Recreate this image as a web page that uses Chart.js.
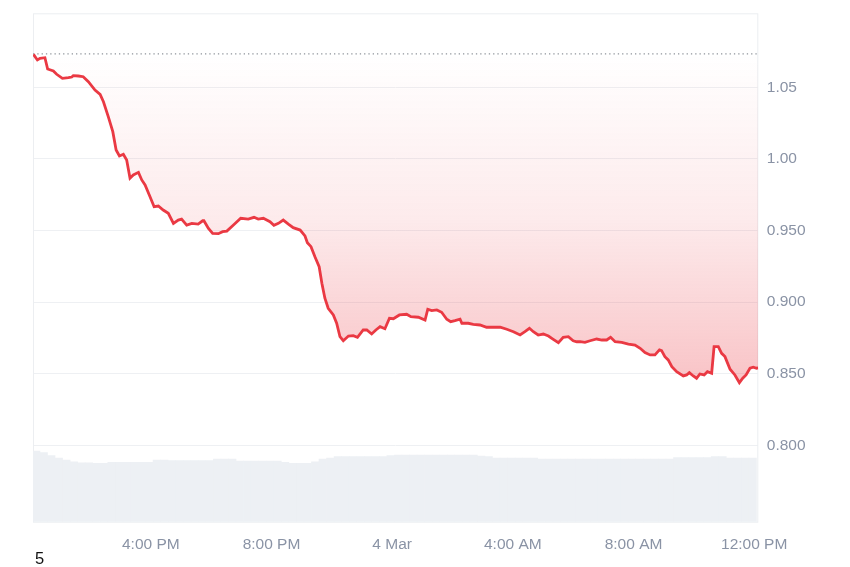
<!DOCTYPE html>
<html>
<head>
<meta charset="utf-8">
<script src="https://cdn.jsdelivr.net/npm/chart.js@4.4.1/dist/chart.umd.min.js"></script>
<style>
    html, body { margin: 0; padding: 0; background: #fff; }
    #wrap { position: relative; width: 850px; height: 567px; }
    #note {
        position: absolute; left: 35px; top: 549px;
        font: 16.5px "Liberation Sans", Arial, sans-serif; color: #111;
    }
</style>
</head>
<body>
<div id="wrap">
    <canvas id="priceChart"></canvas>
    <div id="note">5</div>
</div>
<script>
// время в часах от 00:00 3 марта
const priceTimes = [12.11, 12.24, 12.33, 12.49, 12.58, 12.77, 12.88, 13.07, 13.27, 13.38,
    13.43, 13.60, 13.76, 13.93, 14.15, 14.32, 14.43, 14.59, 14.74, 14.85,
    14.96, 15.09, 15.20, 15.31, 15.42, 15.59, 15.70, 15.81, 15.95, 16.11,
    16.25, 16.41, 16.58, 16.75, 16.91, 17.02, 17.19, 17.36, 17.57, 17.72,
    17.76, 17.91, 18.05, 18.24, 18.38, 18.52, 18.74, 18.98, 19.23, 19.42,
    19.56, 19.73, 19.95, 20.08, 20.23, 20.39, 20.56, 20.72, 20.95, 21.11,
    21.19, 21.31, 21.44, 21.58, 21.67, 21.77, 21.88, 22.05, 22.16, 22.27,
    22.38, 22.55, 22.71, 22.85, 23.04, 23.16, 23.32, 23.46, 23.60, 23.76,
    23.91, 24.04, 24.24, 24.48, 24.62, 24.87, 25.09, 25.18, 25.31, 25.48,
    25.64, 25.81, 25.94, 26.08, 26.25, 26.31, 26.52, 26.69, 26.91, 27.13,
    27.35, 27.58, 27.80, 28.02, 28.24, 28.40, 28.55, 28.68, 28.84, 29.01,
    29.18, 29.34, 29.51, 29.67, 29.84, 30.00, 30.12, 30.23, 30.39, 30.56,
    30.78, 30.95, 31.11, 31.24, 31.39, 31.61, 31.83, 32.05, 32.22, 32.38,
    32.55, 32.71, 32.86, 32.93, 33.04, 33.15, 33.27, 33.43, 33.65, 33.76,
    33.85, 33.98, 34.09, 34.20, 34.34, 34.45, 34.59, 34.67, 34.81, 34.92,
    35.03, 35.20, 35.36, 35.51, 35.62, 35.73, 35.86, 35.97, 36.08, 36.13];

const priceValues = [1.0730, 1.0691, 1.0703, 1.0707, 1.0628, 1.0614, 1.0591, 1.0563, 1.0567, 1.0572,
    1.0581, 1.0579, 1.0574, 1.0539, 1.0481, 1.0451, 1.0399, 1.0295, 1.0190, 1.0062,
    1.0020, 1.0032, 0.9992, 0.9865, 0.9888, 0.9906, 0.9853, 0.9818, 0.9748, 0.9666,
    0.9671, 0.9643, 0.9620, 0.9550, 0.9573, 0.9580, 0.9538, 0.9550, 0.9545, 0.9568,
    0.9568, 0.9515, 0.9480, 0.9478, 0.9492, 0.9496, 0.9538, 0.9585, 0.9580, 0.9592,
    0.9580, 0.9585, 0.9561, 0.9536, 0.9550, 0.9573, 0.9545, 0.9520, 0.9503, 0.9462,
    0.9415, 0.9387, 0.9317, 0.9247, 0.9131, 0.9027, 0.8957, 0.8910, 0.8852, 0.8758,
    0.8730, 0.8763, 0.8765, 0.8754, 0.8805, 0.8805, 0.8777, 0.8805, 0.8828, 0.8814,
    0.8887, 0.8884, 0.8910, 0.8915, 0.8898, 0.8894, 0.8875, 0.8950, 0.8940, 0.8945,
    0.8929, 0.8880, 0.8863, 0.8870, 0.8880, 0.8852, 0.8852, 0.8845, 0.8840, 0.8824,
    0.8824, 0.8824, 0.8810, 0.8793, 0.8770, 0.8793, 0.8817, 0.8793, 0.8770, 0.8777,
    0.8763, 0.8740, 0.8716, 0.8754, 0.8758, 0.8730, 0.8723, 0.8723, 0.8719, 0.8730,
    0.8742, 0.8735, 0.8735, 0.8754, 0.8723, 0.8719, 0.8707, 0.8700, 0.8677, 0.8647,
    0.8631, 0.8631, 0.8666, 0.8661, 0.8619, 0.8596, 0.8549, 0.8514, 0.8484, 0.8491,
    0.8507, 0.8484, 0.8468, 0.8498, 0.8491, 0.8514, 0.8503, 0.8689, 0.8689, 0.8642,
    0.8619, 0.8531, 0.8491, 0.8437, 0.8468, 0.8491, 0.8538, 0.8545, 0.8538, 0.8540];

// объём по 15-минутным интервалам, начиная с 12:12
const volumeStart = 12.2;
const volumeStep = 0.25;
const volumeValues = [13.9, 13.6, 13.0, 12.5, 12.1, 11.8, 11.6, 11.6, 11.5, 11.5,
    11.7, 11.7, 11.7, 11.7, 11.7, 11.7, 12.1, 12.1, 12.0, 12.0,
    12.0, 12.0, 12.0, 12.0, 12.3, 12.3, 12.3, 11.9, 11.9, 11.9,
    11.9, 11.9, 11.9, 11.7, 11.5, 11.5, 11.5, 11.8, 12.3, 12.5,
    12.8, 12.8, 12.8, 12.8, 12.8, 12.8, 12.8, 13.0, 13.1, 13.1,
    13.1, 13.1, 13.1, 13.1, 13.1, 13.1, 13.1, 13.1, 13.1, 12.9,
    12.8, 12.5, 12.5, 12.5, 12.5, 12.5, 12.5, 12.3, 12.3, 12.3,
    12.3, 12.3, 12.3, 12.3, 12.3, 12.3, 12.3, 12.3, 12.3, 12.3,
    12.3, 12.3, 12.3, 12.3, 12.3, 12.6, 12.6, 12.6, 12.6, 12.6,
    12.8, 12.8, 12.5, 12.5, 12.5, 12.5];

const openPrice = 1.0733;
const timeMin = 12.095;
const timeMax = 36.136;

const xTicks = [16, 20, 24, 28, 32, 36];
const xTickLabels = ['4:00 PM', '8:00 PM', '4 Mar', '4:00 AM', '8:00 AM', '12:00 PM'];
const yTicks = [0.80, 0.85, 0.90, 0.95, 1.00, 1.05];
const yTickLabels = ['0.800', '0.850', '0.900', '0.950', '1.00', '1.05'];

const labelFont = { family: '"Liberation Sans", Arial, sans-serif', size: 15.5 };
const labelColor = '#8a93a5';

// рамка вокруг области графика
const frame = {
    id: 'frame',
    beforeDatasetsDraw(chart) {
        const { ctx, chartArea: a } = chart;
        ctx.save();
        ctx.strokeStyle = '#eceef1';
        ctx.lineWidth = 1;
        ctx.strokeRect(a.left + 0.5, a.top + 0.5, a.right - a.left - 1, a.bottom - a.top);
        ctx.restore();
    }
};

const priceData = priceTimes.map((t, i) => ({ x: t, y: priceValues[i] }));
const volumeData = volumeValues.map((v, i) => ({ x: volumeStart + i * volumeStep, y: v }));

new Chart(document.getElementById('priceChart').getContext('2d'), {
    data: {
        datasets: [
            {
                type: 'line',
                data: priceData,
                borderColor: '#ea3943',
                borderWidth: 2.8,
                pointRadius: 0,
                tension: 0,
                order: 1,
                fill: { value: openPrice },
                backgroundColor: function (context) {
                    const chart = context.chart;
                    if (!chart.chartArea) return 'rgba(234,57,67,0.1)';
                    const y = chart.scales.y;
                    const top = y.getPixelForValue(openPrice);
                    const bottom = y.getPixelForValue(Math.min(...priceValues));
                    const g = chart.ctx.createLinearGradient(0, top, 0, bottom);
                    g.addColorStop(0, 'rgba(234,57,67,0.0)');
                    g.addColorStop(0.5, 'rgba(234,57,67,0.1)');
                    g.addColorStop(1, 'rgba(234,57,67,0.3)');
                    return g;
                }
            },
            {
                type: 'line',
                data: [{ x: timeMin, y: openPrice }, { x: timeMax, y: openPrice }],
                borderColor: '#8f949b',
                borderWidth: 1.3,
                borderDash: [1.3, 3],
                pointRadius: 0,
                fill: false,
                order: 2
            },
            {
                type: 'bar',
                data: volumeData,
                yAxisID: 'yVol',
                backgroundColor: '#edf0f4',
                borderWidth: 0,
                barPercentage: 1,
                categoryPercentage: 1,
                order: 3
            }
        ]
    },
    options: {
        responsive: true,
        maintainAspectRatio: false,
        animation: false,
        layout: { padding: { left: 33, top: 13.3, right: 0, bottom: 0 } },
        plugins: {
            legend: { display: false },
            tooltip: { enabled: false }
        },
        scales: {
            x: {
                type: 'linear',
                offset: false,
                min: timeMin,
                max: timeMax,
                grid: { display: false, drawTicks: false, offset: false },
                border: { display: false },
                afterBuildTicks: (axis) => { axis.ticks = xTicks.map(v => ({ value: v })); },
                afterFit: (axis) => {
                    axis.height = 45.3;
                    axis.paddingLeft = 0;
                    axis.paddingRight = 0;
                },
                ticks: {
                    padding: 14,
                    maxRotation: 0,
                    autoSkip: false,
                    font: labelFont,
                    color: labelColor,
                    callback: (value, index) => xTickLabels[index]
                }
            },
            y: {
                position: 'right',
                min: 0.7466,
                max: 1.1017,
                grid: { color: '#eef0f3', drawTicks: false },
                border: { display: false },
                afterBuildTicks: (axis) => { axis.ticks = yTicks.map(v => ({ value: v })); },
                afterFit: (axis) => {
                    axis.width = 91.7;
                    axis.paddingTop = 0;
                    axis.paddingBottom = 0;
                },
                ticks: {
                    padding: 8.5,
                    font: labelFont,
                    color: labelColor,
                    callback: (value, index) => yTickLabels[index]
                }
            },
            yVol: {
                display: false,
                min: 0,
                max: 100
            }
        }
    },
    plugins: [frame]
});
</script>
</body>
</html>
